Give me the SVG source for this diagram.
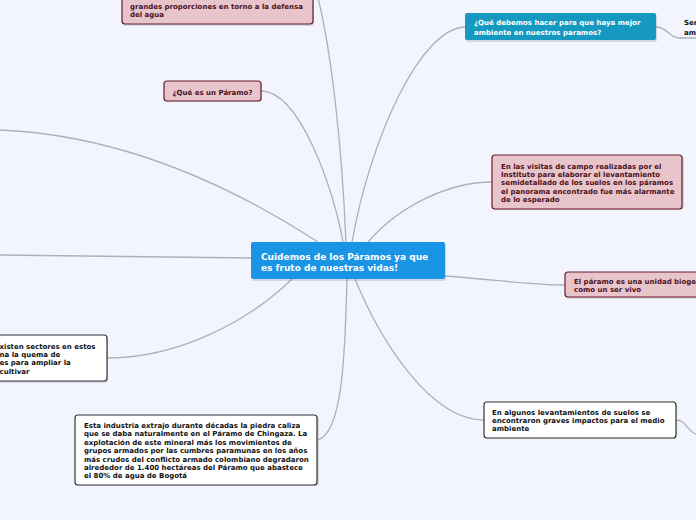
<svg xmlns="http://www.w3.org/2000/svg" width="696" height="520" viewBox="0 0 696 520">
<style>
.bg{fill:#f2f5fd}
.c{fill:none;stroke:#b0b0b4;stroke-width:1.3}
.pink{fill:#e7c5cb;stroke:#6a1a2c;stroke-width:1.2}
.white{fill:#ffffff;stroke:#333333;stroke-width:1.2}
.sh{fill:#000;opacity:0.12}
.t{font-family:"DejaVu Sans",Verdana,sans-serif;font-weight:bold;font-size:7px}
.tp{fill:#4c0f1c}
.tw{fill:#ffffff}
.tb{fill:#111111}
</style>
<rect class="bg" x="0" y="0" width="696" height="520"/>
<g id="connectors">
<path class="c" d="M346,242 C342,150 332,50 316,-10"/>
<path class="c" d="M261,91 C300,91 334,190 343,242"/>
<path class="c" d="M466,27 C420,27 370,140 352,242"/>
<path class="c" d="M492,182 C450,182 400,205 368,242"/>
<path class="c" d="M445,276 C500,280 530,285 565,285"/>
<path class="c" d="M355,279 C380,340 430,420 484,420"/>
<path class="c" d="M347,279 C345,360 342,432 318,440"/>
<path class="c" d="M107,358 C180,358 250,320 292,279"/>
<path class="c" d="M251,258 C150,256 50,255 0,255"/>
<path class="c" d="M0,130 C120,135 230,185 318,242"/>
<path class="c" d="M656,27 C668,27 668,38 680,38 L696,38"/>
<path class="c" d="M676,420 C686,420 688,432 696,434"/>
</g>
<g id="node-top">
<rect class="sh" x="123" y="-20" width="191" height="46" rx="3"/>
<rect class="pink" x="122" y="-21" width="191" height="45" rx="3"/>
<text class="t tp" x="130" y="8.7">grandes proporciones en torno a la defensa</text>
<text class="t tp" x="130" y="17.2">del agua</text>
</g>
<g id="node-que-es">
<rect class="sh" x="165" y="82" width="97" height="20" rx="3"/>
<rect class="pink" x="164" y="81" width="97" height="20" rx="3"/>
<text class="t tp" x="172.5" y="94.5">¿Qué es un Páramo?</text>
</g>
<g id="node-debemos">
<rect class="sh" x="466" y="14" width="191" height="28" rx="2"/>
<rect x="465" y="13" width="191" height="27" rx="2" fill="#1699c0"/>
<text class="t tw" x="474" y="25">¿Qué debemos hacer para que haya mejor</text>
<text class="t tw" x="474" y="34.5">ambiente en nuestros paramos?</text>
</g>
<g id="node-sem">
<text class="t tb" x="684" y="25">Ser</text>
<text class="t tb" x="684" y="35">am</text>
</g>
<g id="node-visitas">
<rect class="sh" x="493" y="156" width="191" height="54" rx="3"/>
<rect class="pink" x="492" y="155" width="190" height="54" rx="3"/>
<text class="t tp" x="501" y="168.5">En las visitas de campo realizadas por el</text>
<text class="t tp" x="501" y="176.9">Instituto para elaborar el levantamiento</text>
<text class="t tp" x="501" y="185.3">semidetallado de los suelos en los páramos</text>
<text class="t tp" x="501" y="193.7">el panorama encontrado fue más alarmante</text>
<text class="t tp" x="501" y="202.1">de lo esperado</text>
</g>
<g id="node-central">
<rect class="sh" x="252" y="243" width="194" height="38" rx="2"/>
<rect x="251" y="242" width="194" height="37" rx="2" fill="#1a95e6"/>
<text class="t tw" style="font-size:9px" x="261" y="260">Cuidemos de los Páramos ya que</text>
<text class="t tw" style="font-size:9px" x="261" y="271">es fruto de nuestras vidas!</text>
</g>
<g id="node-unidad">
<rect class="sh" x="566" y="273" width="140" height="26" rx="3"/>
<rect class="pink" x="565" y="272" width="140" height="25" rx="3"/>
<text class="t tp" x="574" y="283.8">El páramo es una unidad bioge</text>
<text class="t tp" x="574" y="292.2">como un ser vivo</text>
</g>
<g id="node-existen">
<rect class="sh" x="-9" y="336" width="117" height="47" rx="3"/>
<rect class="white" x="-10" y="335" width="117" height="46" rx="3"/>
<text class="t tb" x="-0.5" y="348.5">xisten sectores en estos</text>
<text class="t tb" x="-0.5" y="356.9">na la quema de</text>
<text class="t tb" x="-0.5" y="365.3">es para ampliar la</text>
<text class="t tb" x="-0.5" y="373.7">cultivar</text>
</g>
<g id="node-industria">
<rect class="sh" x="76" y="416" width="243" height="70" rx="3"/>
<rect class="white" x="75" y="415" width="242" height="70" rx="3"/>
<text class="t tb" x="84" y="428">Esta industria extrajo durante décadas la piedra caliza</text>
<text class="t tb" x="84" y="436.4">que se daba naturalmente en el Páramo de Chingaza. La</text>
<text class="t tb" x="84" y="444.8">explotación de este mineral más los movimientos de</text>
<text class="t tb" x="84" y="453.2">grupos armados por las cumbres paramunas en los años</text>
<text class="t tb" x="84" y="461.6">más crudos del conflicto armado colombiano degradaron</text>
<text class="t tb" x="84" y="470">alrededor de 1.400 hectáreas del Páramo que abastece</text>
<text class="t tb" x="84" y="478.4">el 80% de agua de Bogotá</text>
</g>
<g id="node-levantamientos">
<rect class="sh" x="485" y="403" width="192" height="36" rx="3"/>
<rect class="white" x="484" y="402" width="192" height="36" rx="3"/>
<text class="t tb" x="492" y="414.5">En algunos levantamientos de suelos se</text>
<text class="t tb" x="492" y="422.9">encontraron graves impactos para el medio</text>
<text class="t tb" x="492" y="431.3">ambiente</text>
</g>
</svg>
